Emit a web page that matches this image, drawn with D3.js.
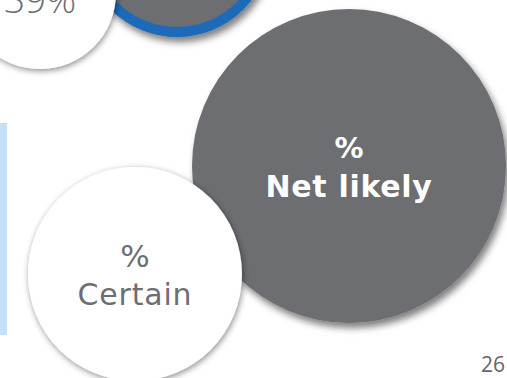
<!DOCTYPE html>
<html>
<head>
<meta charset="utf-8">
<script src="https://cdn.jsdelivr.net/npm/d3@7"></script>
<style>
  html, body { margin: 0; padding: 0; background: #fff; overflow: hidden; }
  svg { display: block; }
</style>
</head>
<body>
<svg id="chart" width="507" height="378"></svg>
<script>
// Bubble content
const bubbleNames = ["share", "ring", "netLikely", "certain"];
const bubbleLines = [["39%"], [], ["%", "Net likely"], ["%", "Certain"]];
const pageNumber = "26";

// Layout and styling for each bubble
const layout = {
  ring:      { cx: 177, cy: -57, r: 89, fill: "#6d6e72", stroke: "#1d6bb8", sw: 10 },
  netLikely: { cx: 349, cy: 166, r: 157, fill: "#6d6e72" },
  share:     { cx: 40,  cy: -7,  r: 76,  fill: "#ffffff" },
  certain:   { cx: 135, cy: 274, r: 107, fill: "#ffffff" }
};
const drawOrder = ["ring", "netLikely", "share", "certain"];

const svg = d3.select("#chart");
const defs = svg.append("defs");

const shadow = defs.append("filter").attr("id", "shadow")
  .attr("x", "-20%").attr("y", "-20%").attr("width", "140%").attr("height", "140%");
shadow.append("feDropShadow")
  .attr("dx", 3).attr("dy", 5).attr("stdDeviation", 3.5)
  .attr("flood-color", "#000").attr("flood-opacity", 0.5);

const glow = defs.append("filter").attr("id", "glow")
  .attr("x", "-20%").attr("y", "-20%").attr("width", "140%").attr("height", "140%");
glow.append("feDropShadow")
  .attr("dx", 1).attr("dy", 2).attr("stdDeviation", 3)
  .attr("flood-color", "#000").attr("flood-opacity", 0.45);

// Light blue side bar
svg.append("rect")
  .attr("x", 0).attr("y", 123).attr("width", 7).attr("height", 212)
  .attr("fill", "#c6e0f8");

const bubbles = drawOrder.map(n => {
  const i = bubbleNames.indexOf(n);
  return Object.assign({ name: n, lines: bubbleLines[i] }, layout[n]);
});

const g = svg.selectAll("g.bubble").data(bubbles).join("g")
  .attr("class", "bubble")
  .attr("transform", d => `translate(${d.cx},${d.cy})`);

g.append("circle")
  .attr("r", d => d.r)
  .attr("fill", d => d.fill)
  .attr("stroke", d => d.stroke || "none")
  .attr("stroke-width", d => d.sw || 0)
  .attr("filter", d => d.fill === "#ffffff" ? "url(#glow)" : "url(#shadow)");

// Text styles per bubble
const textStyle = {
  share: [{ dy: 20, size: 37, weight: 300, family: "'Open Sans', sans-serif", fill: "#6d6e72", ls: 0 }],
  netLikely: [
    { dy: -8, size: 29, weight: 700, family: "'DejaVu Sans', sans-serif", fill: "#ffffff", ls: 0 },
    { dy: 31, size: 30, weight: 700, family: "'DejaVu Sans', sans-serif", fill: "#ffffff", ls: 0.7 }
  ],
  certain: [
    { dy: -7, size: 31, weight: 400, family: "'DejaVu Sans', sans-serif", fill: "#6d6e72", ls: 0 },
    { dy: 31, size: 30, weight: 400, family: "'DejaVu Sans', sans-serif", fill: "#6d6e72", ls: 0.8 }
  ]
};

g.each(function(d) {
  const styles = textStyle[d.name];
  if (!styles) return;
  d3.select(this).selectAll("text").data(d.lines).join("text")
    .attr("text-anchor", "middle")
    .attr("y", (t, i) => styles[i].dy)
    .attr("font-family", (t, i) => styles[i].family)
    .attr("font-size", (t, i) => styles[i].size)
    .attr("font-weight", (t, i) => styles[i].weight)
    .attr("letter-spacing", (t, i) => styles[i].ls)
    .attr("fill", (t, i) => styles[i].fill)
    .text(t => t);
});

// Page number
svg.append("text")
  .attr("x", 505).attr("y", 372)
  .attr("text-anchor", "end")
  .attr("font-family", "'Open Sans', sans-serif")
  .attr("font-size", 21)
  .attr("fill", "#666")
  .text(pageNumber);
</script>
</body>
</html>
